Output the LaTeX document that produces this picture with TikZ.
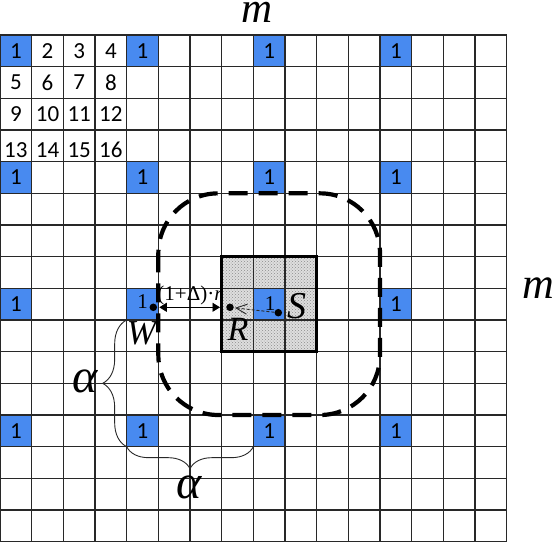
\documentclass[tikz,border=0pt]{standalone}
\usepackage{fontspec}
\newfontfamily\carl{Carlito}
\newfontfamily\tms{Liberation Serif}
\usetikzlibrary{arrows.meta,decorations.pathreplacing,patterns}
\definecolor{cellblue}{RGB}{72,138,240}
\definecolor{gridc}{RGB}{40,40,40}
\definecolor{shadec}{RGB}{222,222,222}
\begin{document}
\begin{tikzpicture}[x=1pt,y=-1pt,
  gridline/.style={draw=gridc, line width=1.6pt},
  num/.style={font=\carl\fontsize{23}{23}\selectfont, inner sep=0},
  numserif/.style={font=\tms\fontsize{21}{21}\selectfont, inner sep=0},
  bigital/.style={font=\tms\itshape\fontsize{#1}{#1}\selectfont, inner sep=0},
  dotn/.style={circle, fill=black, inner sep=0, minimum size=7.5pt},
  bracestyle/.style={decorate, line width=0.9pt, draw=gridc},
  regionbox/.style={line width=4.2pt, dash pattern=on 19pt off 11pt, rounded corners=60pt},
  cellsq/.style={line width=3.5pt}
]
\def\cs{31.6667}
\def\gy{35}
\useasboundingbox (0,0) rectangle (555,542);
% shaded block
\fill[shadec] (7*\cs,\gy+7*\cs) rectangle (10*\cs,\gy+10*\cs);
\fill[pattern=crosshatch dots, pattern color=gray!90] (7*\cs,\gy+7*\cs) rectangle (10*\cs,\gy+10*\cs);
% blue cells
\foreach \r in {0,4,8,12} \foreach \c in {0,4,8,12}
  \fill[cellblue] (\c*\cs,\gy+\r*\cs) rectangle ({(\c+1)*\cs},{\gy+(\r+1)*\cs});
% grid
\foreach \i in {0,...,16} {
  \draw[gridline] (\i*\cs,\gy) -- (\i*\cs,\gy+16*\cs);
  \draw[gridline] (0,\gy+\i*\cs) -- (16*\cs,\gy+\i*\cs);
}
% numbers 2..16
\foreach \r in {0,1,2,3} \foreach \c in {0,1,2,3} {
  \pgfmathtruncatemacro\n{4*\r+\c+1}
  \pgfmathsetmacro\dy{ifthenelse(\r==3,4,0)}
  \ifnum\n>1
    \node[num] (n\n) at ({(\c+0.5)*\cs},{\gy+(\r+0.5)*\cs+\dy}) {\n};
  \fi
}
% ones in blue cells
\foreach \r/\c in {0/0,0/4,0/8,0/12,4/0,4/4,4/8,4/12,8/0,8/12,12/0,12/4,12/8,12/12}
  \node[num] (one-\r-\c) at ({(\c+0.5)*\cs},{\gy+(\r+0.5)*\cs}) {1};
\node[numserif] (one-8-4) at (142.5,301.7) {1};
\node[numserif] (one-8-8) at (270,303.5) {1};
% thick square and dashed region
\draw[cellsq] (7*\cs,\gy+7*\cs) rectangle (10*\cs,\gy+10*\cs);
\draw[regionbox] (5*\cs,\gy+5*\cs) rectangle (12*\cs,\gy+12*\cs);
% labels
\node[bigital=43, anchor=base] (mtop) at (257,22.5) {m};
\node[bigital=44, anchor=base] (mright) at (538,298) {m};
\node[bigital=35, anchor=base] (wlab) at (141.5,344) {W};
\node[bigital=34, anchor=base] (rlab) at (238,340) {R};
\node[bigital=38, anchor=base] (slab) at (297,318) {S};
\node[bigital=48] (alphaL) at (85,381.5) {α};
\node[bigital=48] (alphaB) at (189,487.5) {α};
\node[font=\tms\fontsize{21}{21}\selectfont, inner sep=0] (dist) at (190,295.5) {(1+Δ)·\textit{r}};
% dots
\node[dotn] (wdot) at (153.3,307.3) {};
\node[dotn] (rdot) at (230,307.3) {};
\node[dotn] (sdot) at (278.3,312.7) {};
% arrows
\coordinate (aL) at (159.3,307.3);
\coordinate (aR) at (220,307.3);
\draw[line width=0.9pt, {Triangle[length=7.5pt,width=9pt]}-{Triangle[length=7.5pt,width=9pt]}] (aL) -- (aR);
\draw[line width=0.9pt, draw=gridc, dash pattern=on 3pt off 2pt, -{Straight Barb[length=11pt,width=10pt]}, shorten >=1pt] (sdot) -- (rdot);
% braces
\coordinate (bA) at (4*\cs,\gy+9*\cs);
\coordinate (bB) at (4*\cs,\gy+13*\cs);
\coordinate (bC) at (8*\cs,\gy+13*\cs);
\draw[bracestyle, decoration={brace, amplitude=24pt}] (bB) -- (bA);
\draw[bracestyle, decoration={brace, amplitude=22pt}] (bC) -- (bB);
\end{tikzpicture}
\end{document}
